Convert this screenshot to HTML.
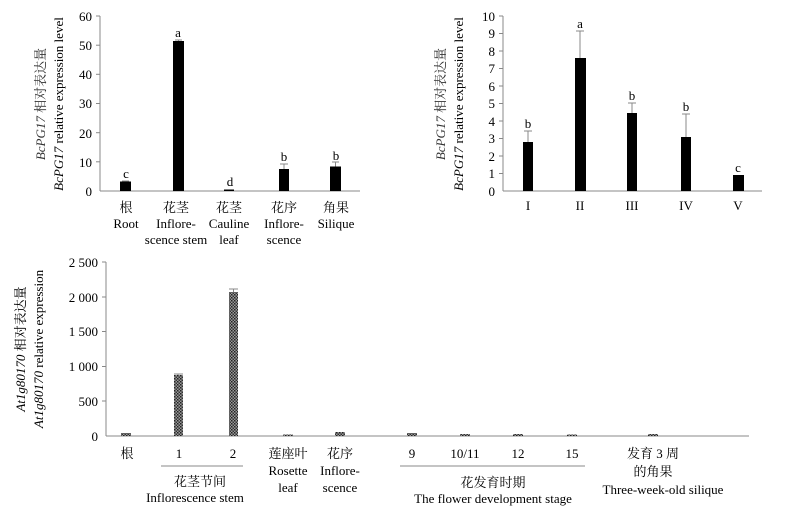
<!DOCTYPE html>
<html><head><meta charset="utf-8"><style>
html,body{margin:0;padding:0;background:#fff;}
svg{display:block;font-family:"Liberation Serif","Noto Serif CJK SC",serif;}
</style></head><body>
<svg width="800" height="513" viewBox="0 0 800 513" xmlns="http://www.w3.org/2000/svg">
<defs>
<pattern id="h" width="3" height="3" patternUnits="userSpaceOnUse">
<rect width="3" height="3" fill="#999"/><rect width="1.5" height="1.5" fill="#222"/><rect x="1.5" y="1.5" width="1.5" height="1.5" fill="#333"/>
</pattern>
</defs>
<g font-size="13" fill="#000">
<!-- Chart 1 -->
<g stroke="#888" stroke-width="1">
<line x1="100" y1="16" x2="100" y2="191"/>
<line x1="100" y1="191" x2="360" y2="191"/>
<line x1="96" y1="16" x2="100" y2="16"/><line x1="96" y1="45.2" x2="100" y2="45.2"/><line x1="96" y1="74.3" x2="100" y2="74.3"/><line x1="96" y1="103.5" x2="100" y2="103.5"/><line x1="96" y1="132.7" x2="100" y2="132.7"/><line x1="96" y1="161.8" x2="100" y2="161.8"/>
<line x1="125.5" y1="181" x2="125.5" y2="189"/><line x1="122" y1="181" x2="129" y2="181"/>
<line x1="178.5" y1="40" x2="178.5" y2="42"/><line x1="175" y1="40" x2="182" y2="40"/>
<line x1="284" y1="164" x2="284" y2="170"/><line x1="280" y1="164" x2="288" y2="164"/>
<line x1="335.5" y1="162" x2="335.5" y2="167"/><line x1="332" y1="162" x2="339" y2="162"/>
</g>
<g text-anchor="end">
<text x="92" y="21">60</text><text x="92" y="50">50</text><text x="92" y="79">40</text><text x="92" y="108">30</text><text x="92" y="138">20</text><text x="92" y="167">10</text><text x="92" y="196">0</text>
</g>
<rect x="120" y="181.5" width="11" height="9.5"/>
<rect x="173" y="41" width="11" height="150"/>
<rect x="224" y="189.5" width="10" height="1.5"/>
<rect x="279" y="169" width="10" height="22"/>
<rect x="330" y="166.5" width="11" height="24.5"/>
<g text-anchor="middle">
<text x="126" y="178">c</text><text x="178" y="37">a</text><text x="230" y="186">d</text><text x="284" y="161">b</text><text x="336" y="160">b</text>
<text x="126" y="212">根</text><text x="126" y="228">Root</text>
<text x="176" y="212">花茎</text><text x="176" y="228">Inflore-</text><text x="176" y="244">scence stem</text>
<text x="229" y="212">花茎</text><text x="229" y="228">Cauline</text><text x="229" y="244">leaf</text>
<text x="284" y="212">花序</text><text x="284" y="228">Inflore-</text><text x="284" y="244">scence</text>
<text x="336" y="212">角果</text><text x="336" y="228">Silique</text>
</g>
<text transform="translate(45,104) rotate(-90)" text-anchor="middle" font-size="13" fill="#333"><tspan font-style="italic">BcPG17</tspan> 相对表达量</text>
<text transform="translate(63,104) rotate(-90)" text-anchor="middle" font-size="13"><tspan font-style="italic">BcPG17</tspan> relative expression level</text>

<!-- Chart 2 -->
<g stroke="#888" stroke-width="1">
<line x1="503" y1="16" x2="503" y2="191"/>
<line x1="503" y1="191" x2="762" y2="191"/>
<line x1="499" y1="16" x2="503" y2="16"/><line x1="499" y1="33.5" x2="503" y2="33.5"/><line x1="499" y1="51" x2="503" y2="51"/><line x1="499" y1="68.5" x2="503" y2="68.5"/><line x1="499" y1="86" x2="503" y2="86"/><line x1="499" y1="103.5" x2="503" y2="103.5"/><line x1="499" y1="121" x2="503" y2="121"/><line x1="499" y1="138.5" x2="503" y2="138.5"/><line x1="499" y1="156" x2="503" y2="156"/><line x1="499" y1="173.5" x2="503" y2="173.5"/>
<line x1="528" y1="131" x2="528" y2="142"/><line x1="524" y1="131" x2="532" y2="131"/>
<line x1="580" y1="31" x2="580" y2="58"/><line x1="576" y1="31" x2="584" y2="31"/>
<line x1="632" y1="103" x2="632" y2="113"/><line x1="628" y1="103" x2="636" y2="103"/>
<line x1="686" y1="114" x2="686" y2="137"/><line x1="682" y1="114" x2="690" y2="114"/>
</g>
<g text-anchor="end">
<text x="495" y="21">10</text><text x="495" y="38">9</text><text x="495" y="56">8</text><text x="495" y="73">7</text><text x="495" y="91">6</text><text x="495" y="108">5</text><text x="495" y="126">4</text><text x="495" y="143">3</text><text x="495" y="161">2</text><text x="495" y="178">1</text><text x="495" y="196">0</text>
</g>
<rect x="523" y="142" width="10" height="49"/>
<rect x="575" y="58" width="11" height="133"/>
<rect x="627" y="113" width="10" height="78"/>
<rect x="681" y="137" width="10" height="54"/>
<rect x="733" y="175" width="11" height="16"/>
<g text-anchor="middle">
<text x="528" y="128">b</text><text x="580" y="28">a</text><text x="632" y="100">b</text><text x="686" y="111">b</text><text x="738" y="172">c</text>
<text x="528" y="210">I</text><text x="580" y="210">II</text><text x="632" y="210">III</text><text x="686" y="210">IV</text><text x="738" y="210">V</text>
</g>
<text transform="translate(445,104) rotate(-90)" text-anchor="middle" fill="#333"><tspan font-style="italic">BcPG17</tspan> 相对表达量</text>
<text transform="translate(463,104) rotate(-90)" text-anchor="middle"><tspan font-style="italic">BcPG17</tspan> relative expression level</text>

<!-- Chart 3 -->
<g stroke="#888" stroke-width="1">
<line x1="106" y1="262" x2="106" y2="436"/>
<line x1="106" y1="436" x2="749" y2="436"/>
<line x1="102" y1="262" x2="106" y2="262"/><line x1="102" y1="297" x2="106" y2="297"/><line x1="102" y1="331.5" x2="106" y2="331.5"/><line x1="102" y1="366.5" x2="106" y2="366.5"/><line x1="102" y1="401" x2="106" y2="401"/>
<line x1="178" y1="374" x2="178" y2="376"/><line x1="174" y1="374" x2="183" y2="374"/>
<line x1="233.5" y1="289" x2="233.5" y2="293"/><line x1="229" y1="289" x2="238" y2="289"/>
<line x1="161" y1="466" x2="243" y2="466"/>
<line x1="400" y1="466" x2="585" y2="466"/>
</g>
<g text-anchor="end">
<text x="98" y="267">2 500</text><text x="98" y="302">2 000</text><text x="98" y="336">1 500</text><text x="98" y="371">1 000</text><text x="98" y="406">500</text><text x="98" y="441">0</text>
</g>
<g fill="url(#h)">
<rect x="121" y="433" width="10" height="3"/>
<rect x="174" y="375" width="9" height="61"/>
<rect x="229" y="292" width="9" height="144"/>
<rect x="283" y="434.5" width="10" height="1.5"/>
<rect x="335" y="432" width="10" height="4"/>
<rect x="407" y="433" width="10" height="3"/>
<rect x="460" y="434" width="10" height="2"/>
<rect x="513" y="434" width="10" height="2"/>
<rect x="567" y="434.5" width="10" height="1.5"/>
<rect x="648" y="434" width="10" height="2"/>
</g>
<g text-anchor="middle">
<text x="127" y="458">根</text><text x="179" y="458">1</text><text x="233" y="458">2</text>
<text x="288" y="458">莲座叶</text><text x="288" y="475">Rosette</text><text x="288" y="492">leaf</text>
<text x="340" y="458">花序</text><text x="340" y="475">Inflore-</text><text x="340" y="492">scence</text>
<text x="412" y="458">9</text><text x="465" y="458">10/11</text><text x="518" y="458">12</text><text x="572" y="458">15</text>
<text x="200" y="486">花茎节间</text><text x="195" y="502">Inflorescence stem</text>
<text x="493" y="487">花发育时期</text><text x="493" y="503">The flower development stage</text>
<text x="653" y="458">发育 3 周</text><text x="653" y="476">的角果</text><text x="663" y="494">Three-week-old silique</text>
</g>
<text transform="translate(25,349) rotate(-90)" text-anchor="middle"><tspan font-style="italic">At1g80170</tspan> 相对表达量</text>
<text transform="translate(43,349) rotate(-90)" text-anchor="middle"><tspan font-style="italic">At1g80170</tspan> relative expression</text>
</g>
</svg>
</body></html>
